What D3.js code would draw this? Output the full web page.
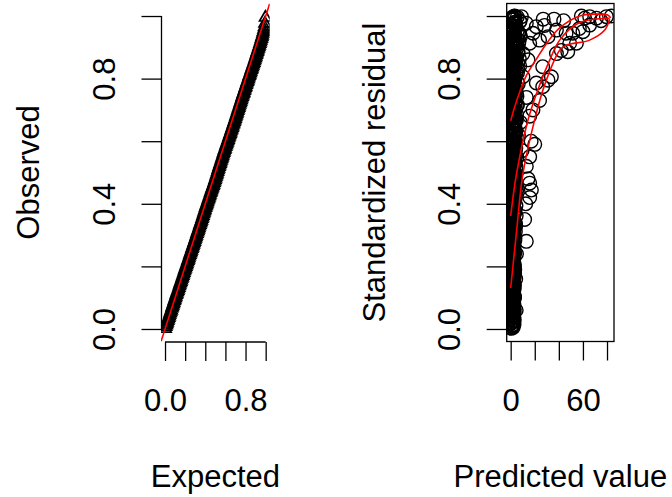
<!DOCTYPE html>
<html><head><meta charset="utf-8">
<script src="https://cdn.jsdelivr.net/npm/d3@7"></script>
<style>
html,body{margin:0;padding:0;background:#fff;}
svg{display:block;font-family:"Liberation Sans",Arial,Helvetica,sans-serif;}
</style></head>
<body><svg id="c" width="672" height="497"></svg>
<script>
// ---------- DATA ----------
// QQ plot (left): observed sorted residual quantiles
const qqObserved = [
0.001,0.007,0.012,0.016,0.021,0.026,0.031,0.036,0.041,0.046,
0.051,0.056,0.060,0.066,0.070,0.075,0.080,0.085,0.090,0.094,
0.099,0.104,0.109,0.113,0.118,0.122,0.127,0.132,0.137,0.142,
0.147,0.151,0.156,0.161,0.165,0.170,0.175,0.180,0.185,0.190,
0.194,0.199,0.204,0.208,0.213,0.218,0.222,0.227,0.232,0.237,
0.242,0.246,0.251,0.256,0.260,0.265,0.270,0.275,0.279,0.284,
0.289,0.294,0.299,0.304,0.309,0.313,0.318,0.323,0.328,0.333,
0.338,0.342,0.347,0.352,0.357,0.362,0.367,0.372,0.377,0.382,
0.387,0.392,0.396,0.401,0.406,0.411,0.415,0.420,0.425,0.430,
0.435,0.439,0.444,0.449,0.453,0.458,0.462,0.467,0.472,0.477,
0.482,0.487,0.492,0.497,0.502,0.508,0.513,0.518,0.523,0.528,
0.533,0.538,0.543,0.548,0.553,0.558,0.563,0.568,0.573,0.577,
0.582,0.587,0.591,0.596,0.601,0.605,0.610,0.615,0.620,0.624,
0.629,0.634,0.638,0.643,0.648,0.653,0.657,0.662,0.667,0.672,
0.677,0.682,0.687,0.692,0.697,0.702,0.707,0.712,0.717,0.722,
0.727,0.732,0.737,0.742,0.747,0.752,0.756,0.761,0.766,0.771,
0.775,0.780,0.785,0.790,0.794,0.799,0.804,0.809,0.813,0.818,
0.823,0.828,0.832,0.837,0.842,0.847,0.851,0.856,0.861,0.866,
0.871,0.876,0.881,0.886,0.891,0.896,0.901,0.906,0.911,0.916,
0.922,0.927,0.933,0.938,0.944,0.950,0.957,0.965,0.976,0.995];

// Residual vs predicted (right): dense column near zero prediction
const colResidual = [
0.002,0.005,0.011,0.014,0.020,0.022,0.029,0.031,0.036,0.043,
0.047,0.050,0.056,0.061,0.063,0.069,0.074,0.078,0.081,0.088,
0.092,0.095,0.101,0.106,0.108,0.115,0.119,0.122,0.128,0.133,
0.137,0.140,0.146,0.151,0.155,0.158,0.164,0.170,0.172,0.178,
0.183,0.186,0.191,0.197,0.200,0.205,0.211,0.214,0.219,0.224,
0.228,0.233,0.237,0.243,0.246,0.251,0.257,0.260,0.265,0.271,
0.274,0.279,0.283,0.289,0.292,0.297,0.303,0.306,0.311,0.316,
0.320,0.325,0.329,0.334,0.339,0.343,0.348,0.352,0.357,0.362,
0.366,0.371,0.375,0.380,0.386,0.389,0.394,0.399,0.403,0.408,
0.412,0.417,0.422,0.426,0.431,0.435,0.440,0.446,0.449,0.454,
0.459,0.463,0.468,0.472,0.477,0.482,0.486,0.491,0.495,0.500,
0.505,0.509,0.514,0.518,0.523,0.528,0.532,0.537,0.541,0.546,
0.551,0.555,0.560,0.564,0.569,0.574,0.578,0.583,0.587,0.592,
0.597,0.601,0.606,0.610,0.615,0.620,0.624,0.629,0.633,0.638,
0.643,0.647,0.652,0.656,0.661,0.666,0.670,0.675,0.679,0.684,
0.689,0.693,0.698,0.702,0.707,0.712,0.716,0.721,0.725,0.730,
0.735,0.739,0.744,0.748,0.753,0.758,0.762,0.767,0.771,0.776,
0.781,0.785,0.790,0.794,0.799,0.804,0.808,0.813,0.817,0.822,
0.827,0.831,0.836,0.840,0.845,0.850,0.854,0.859,0.863,0.868,
0.873,0.877,0.882,0.886,0.891,0.896,0.900,0.905,0.909,0.914,
0.919,0.923,0.928,0.932,0.937,0.942,0.946,0.951,0.955,0.960,
0.965,0.969,0.974,0.978,0.983,0.988,0.992,0.997,0.999,0.995];
const colPredicted = [
0.4,2.1,1.0,2.8,0.1,1.6,3.0,0.7,2.4,1.2,
0.3,2.6,1.4,0.9,3.1,0.2,1.9,2.7,0.6,1.3,
2.2,0.5,3.2,1.1,0.3,2.5,1.7,0.8,2.9,0.1,
1.5,3.0,0.6,2.3,1.0,0.4,2.8,1.8,0.2,3.3,
1.2,0.7,2.6,1.9,0.3,3.1,0.9,2.2,1.4,0.5,
2.7,1.1,0.2,3.4,1.6,0.8,2.4,0.4,3.0,1.3,
0.6,2.0,3.5,0.9,1.7,0.1,2.8,1.2,3.9,0.5,
2.3,1.0,4.2,0.3,1.8,3.1,0.7,2.5,1.4,4.6,
0.2,2.9,1.1,3.6,0.8,2.0,4.4,0.4,1.6,3.2,
1.0,0.3,2.6,3.8,1.5,0.6,4.9,2.2,0.9,3.4,
0.5,1.8,3.0,0.2,4.1,1.3,2.4,0.8,3.7,1.6,
0.3,2.8,1.1,4.5,0.7,2.0,3.3,0.4,1.5,5.2,
2.5,0.9,3.9,1.2,0.2,2.7,4.3,1.7,0.6,3.1,
1.4,0.4,2.2,5.0,0.8,3.5,1.9,0.3,2.9,4.0,
0.7,1.6,3.4,0.2,2.4,4.7,1.1,0.5,3.0,1.9,
2.8,0.3,1.3,4.2,0.9,2.1,5.6,0.6,3.6,1.5,
0.4,3.2,1.8,0.8,4.8,2.5,0.2,3.9,1.2,2.9,
1.7,0.5,5.3,2.3,0.9,3.4,1.4,0.3,4.4,2.0,
0.6,2.7,1.0,3.8,0.2,5.9,1.6,2.4,0.8,4.5,
3.1,0.4,1.9,6.2,1.1,2.8,0.3,4.1,1.5,3.6,
0.7,2.2,5.1,0.4,3.3,1.2,6.8,2.6,0.9,4.3,
1.8,0.3,3.7,2.4,7.5,0.6,1.4,5.5,2.9,1.0];
// second batch of column points
const col2Residual = [
0.008,0.017,0.025,0.034,0.040,0.053,0.058,0.066,0.072,0.084,
0.090,0.098,0.104,0.112,0.125,0.130,0.139,0.143,0.153,0.161,
0.167,0.175,0.181,0.189,0.195,0.203,0.209,0.217,0.226,0.231,
0.239,0.248,0.254,0.262,0.268,0.277,0.285,0.291,0.299,0.308,
0.314,0.322,0.331,0.337,0.345,0.354,0.360,0.369,0.377,0.384,
0.392,0.401,0.406,0.415,0.424,0.429,0.438,0.444,0.452,0.461,
0.466,0.474,0.484,0.489,0.497,0.507,0.512,0.520,0.530,0.535,
0.543,0.553,0.558,0.566,0.576,0.581,0.589,0.599,0.604,0.612,
0.622,0.627,0.635,0.645,0.650,0.658,0.668,0.673,0.681,0.691,
0.696,0.704,0.714,0.719,0.727,0.737,0.742,0.750,0.760,0.765,
0.773,0.783,0.788,0.796,0.806,0.811,0.819,0.829,0.834,0.842,
0.852,0.857,0.865,0.875,0.880,0.888,0.898,0.903,0.911,0.921,
0.926,0.934,0.944,0.949,0.957,0.967,0.972,0.980,0.990,0.994];
const col2Predicted = [
1.1,0.2,2.3,0.7,1.8,2.9,0.4,1.3,2.5,0.1,
2.0,0.9,3.2,0.5,1.6,2.7,0.3,1.2,2.2,0.8,
2.9,0.4,1.5,3.4,0.6,2.0,1.0,0.2,2.6,1.7,
0.5,3.0,1.3,0.8,2.4,0.1,1.9,3.6,0.7,1.1,
2.8,0.3,1.6,4.0,0.9,2.2,0.4,3.3,1.4,0.6,
2.5,1.0,0.2,3.7,1.8,0.5,2.9,1.2,4.3,0.8,
2.0,0.3,3.1,1.5,0.7,4.6,2.3,1.1,0.4,3.5,
1.7,0.9,2.7,0.2,4.1,1.3,3.0,0.6,2.1,5.0,
0.3,1.9,3.8,1.0,0.5,2.6,4.4,1.4,0.8,3.2,
2.0,0.2,5.3,1.6,0.7,2.9,3.9,1.1,0.4,2.4,
4.7,1.3,0.6,3.4,2.1,0.3,5.7,1.8,0.9,2.8,
4.2,0.5,1.5,3.6,6.0,1.0,2.3,0.4,4.9,1.7,
3.1,0.8,6.4,2.0,1.2,4.5,0.3,3.5,1.6,2.5];
// third batch of column points
const col3Residual = [
0.004,0.013,0.019,0.027,0.038,0.045,0.054,0.062,0.070,0.079,
0.086,0.094,0.103,0.110,0.117,0.126,0.135,0.141,0.149,0.157,
0.166,0.173,0.180,0.188,0.198,0.207,0.215,0.221,0.229,0.238,
0.247,0.255,0.263,0.270,0.280,0.287,0.295,0.302,0.312,0.320,
0.327,0.335,0.343,0.352,0.359,0.367,0.376,0.383,0.391,0.399,
0.407,0.416,0.423,0.431,0.440,0.447,0.455,0.464,0.471,0.479,
0.488,0.495,0.503,0.512,0.519,0.527,0.536,0.543,0.551,0.560,
0.567,0.575,0.584,0.591,0.599,0.608,0.615,0.623,0.632,0.639,
0.647,0.656,0.663,0.671,0.680,0.687,0.695,0.704,0.711,0.719,
0.728,0.735,0.743,0.752,0.759,0.767,0.776,0.783,0.791,0.800,
0.807,0.815,0.824,0.831,0.839,0.848,0.855,0.863,0.872,0.879,
0.887,0.896,0.903,0.911,0.920,0.927,0.935,0.944,0.951,0.959,
0.968,0.975,0.983,0.991,0.996];
const col3Predicted = [
0.6,1.9,0.2,1.4,2.6,0.9,0.3,2.1,1.2,0.5,
1.7,2.8,0.1,1.0,2.3,0.7,1.5,3.0,0.4,1.8,
0.9,2.5,0.2,1.3,3.1,0.6,2.0,1.1,0.3,2.7,
1.6,0.8,2.4,0.1,1.4,3.2,0.5,2.2,1.0,0.3,
2.9,1.7,0.6,2.4,1.2,0.2,3.4,1.9,0.8,2.6,
0.4,1.5,3.0,0.9,2.1,0.3,1.8,3.6,0.7,2.5,
1.1,0.2,2.8,1.6,0.5,3.3,2.0,0.9,4.0,1.3,
0.4,2.6,1.8,0.7,3.7,1.2,0.2,2.9,4.4,1.5,
0.6,2.2,3.5,1.0,0.3,4.8,1.9,2.7,0.8,3.9,
1.4,0.5,5.2,2.3,1.1,3.4,0.3,6.3,1.7,2.8,
0.7,4.3,1.3,5.8,2.4,0.4,3.6,7.2,1.6,2.9,
0.9,4.9,2.1,6.6,1.2,3.3,8.2,0.6,5.4,2.6,
1.5,4.1,7.8,2.2,3.8];
// scattered points away from the column
const outPredicted = [4.6,4.2,4.8,13,11.6,12.5,15.8,17.2,15.8,14.4,13,20,17,15.8,
  31,26.6,24,18.5,15.8,13,21.3,33.8,26.6,38,42,47.4,49,54.6,51.6,46,38,31,24,18.5,
  15.8,21.3,13,8.9,3.3,28.2,10.2,14.4,7.5,10.2,61.5,65.6,58.7,71.2,79.5,83.6,65.6,60,
  36,44,6.5,8,9.5,5.5,7,27,57,75];
const outResidual = [0.06,0.16,0.24,0.28,0.35,0.40,0.466,0.444,0.42,0.48,0.52,0.59,0.60,0.55,
  0.795,0.774,0.73,0.70,0.68,0.74,0.786,0.806,0.838,0.88,0.89,0.886,0.913,0.913,0.945,0.945,0.955,0.934,0.923,0.945,
  0.913,0.966,0.977,0.998,1.0,0.97,0.88,0.86,0.84,0.806,0.993,0.998,1.0,0.993,0.998,1.0,0.971,0.95,
  0.99,0.985,0.62,0.66,0.57,0.45,0.92,0.99,0.96,0.985];
// quantile regression curves
const q1Predicted = [0,3.3,7.5,13.3,20.8,30.7,40.7,57.3,69.8,80.6,83.1];
const q1Residual  = [0.665,0.709,0.757,0.812,0.859,0.917,0.962,1.0,1.006,1.003,0.994];
const q2Predicted = [0,4.7,14.4,24.1,32.4,40.7,57.3,82.2];
const q2Residual  = [0.361,0.492,0.668,0.78,0.859,0.923,0.979,0.993];
const q3Predicted = [0,5,10,19.9,28.2,40.7,46.3,65.6,78.1,82.2];
const q3Residual  = [0.131,0.316,0.492,0.668,0.78,0.891,0.907,0.923,0.955,0.99];

const leftXTicks = [0,0.2,0.4,0.6,0.8,1.0];
const leftXLabels = ["0.0","","","","0.8",""];
const yTicks = [0,0.2,0.4,0.6,0.8,1.0];
const yLabels = ["0.0","","0.4","","0.8",""];
const rightXTicks = [0,20,40,60,80];
const rightXLabels = ["0","","","60",""];

// ---------- DRAW ----------
const svg = d3.select("#c");
const FS = 31;
const xL = d3.scaleLinear().domain([-0.04,1.04]).range([161,269.7]);
const yS = d3.scaleLinear().domain([-0.04,1.04]).range([341.5,3.5]);
const xR = d3.scaleLinear().domain([-3.3,85.8]).range([506.7,614]);

const defs = svg.append("defs");
defs.append("clipPath").attr("id","clipL").append("rect")
  .attr("x",161).attr("y",3.5).attr("width",108.7).attr("height",338);
defs.append("clipPath").attr("id","clipR").append("rect")
  .attr("x",506.7).attr("y",3.5).attr("width",107.3).attr("height",338);

function styleAxis(g){
  g.select(".domain").remove();
  g.selectAll("line").attr("stroke","#000").attr("stroke-width",1.3);
  g.selectAll("text").attr("fill","#000").style("font-size",FS+"px")
   .style("font-family","'Liberation Sans',Arial,sans-serif");
}
function bottomAxis(x, ticks, labels, yPos){
  const g = svg.append("g").attr("transform",`translate(0,${yPos})`)
    .call(d3.axisBottom(x).tickValues(ticks).tickSize(19)
      .tickFormat((d,i)=>labels[i]));
  styleAxis(g);
  g.selectAll("text").attr("y",69).attr("dy",null);
  return g;
}
function leftAxis(y, ticks, labels, xPos){
  const g = svg.append("g").attr("transform",`translate(${xPos},0)`)
    .call(d3.axisLeft(y).tickValues(ticks).tickSize(20)
      .tickFormat((d,i)=>labels[i]));
  styleAxis(g);
  g.selectAll("text").attr("x",null).attr("dy",null).attr("text-anchor","middle")
    .attr("transform","translate(-47,0) rotate(-90)");
  return g;
}

// Left panel
bottomAxis(xL, leftXTicks, leftXLabels, 342);
svg.append("line").attr("x1",xL(0)).attr("x2",xL(1)).attr("y1",342).attr("y2",342)
  .attr("stroke","#000").attr("stroke-width",1.3);
leftAxis(yS, yTicks, yLabels, 161.5);
svg.append("line").attr("x1",161.5).attr("x2",161.5).attr("y1",yS(0)).attr("y2",yS(1))
  .attr("stroke","#000").attr("stroke-width",1.3);

const n = qqObserved.length;
const gL = svg.append("g").attr("clip-path","url(#clipL)");
const tri = d3.symbol().type(d3.symbolTriangle).size(60);
gL.selectAll("path.pt").data(qqObserved).join("path")
  .attr("class","pt").attr("d",tri)
  .attr("transform",(d,i)=>`translate(${xL((i+0.5)/n)},${yS(d)})`)
  .attr("fill","none").attr("stroke","#000").attr("stroke-width",1.7);
gL.append("line").attr("x1",xL(-0.04)).attr("y1",yS(-0.04)).attr("x2",xL(1.04)).attr("y2",yS(1.04))
  .attr("stroke","#ff0000").attr("stroke-width",1.6);

// Right panel
const gR = svg.append("g").attr("clip-path","url(#clipR)");
const pts = colPredicted.map((p,i)=>[p,colResidual[i]])
  .concat(col2Predicted.map((p,i)=>[p,col2Residual[i]]))
  .concat(col3Predicted.map((p,i)=>[p,col3Residual[i]]))
  .concat(outPredicted.map((p,i)=>[p,outResidual[i]]));
gR.selectAll("circle").data(pts).join("circle")
  .attr("cx",d=>xR(d[0])).attr("cy",d=>yS(d[1])).attr("r",6.8)
  .attr("fill","none").attr("stroke","#000").attr("stroke-width",1.4);
const line = d3.line().x(d=>xR(d[0])).y(d=>yS(d[1])).curve(d3.curveCatmullRom);
[[q1Predicted,q1Residual],[q2Predicted,q2Residual],[q3Predicted,q3Residual]].forEach(([px,py])=>{
  gR.append("path").datum(px.map((p,i)=>[p,py[i]])).attr("d",line)
    .attr("fill","none").attr("stroke","#ff0000").attr("stroke-width",1.6);
});
svg.append("rect").attr("x",506.7).attr("y",3.5).attr("width",107.3).attr("height",338)
  .attr("fill","none").attr("stroke","#000").attr("stroke-width",1.3);
bottomAxis(xR, rightXTicks, rightXLabels, 341.5);
leftAxis(yS, yTicks, yLabels, 506.7);

// Titles
function title(txt,x,y,rot){
  svg.append("text").attr("transform",`translate(${x},${y})`+(rot?" rotate(-90)":""))
    .attr("text-anchor","middle").style("font-size",FS+"px").attr("fill","#000").text(txt);
}
title("Expected", (161+269.7)/2, 487, false);
title("Predicted value", (506.7+614)/2, 487, false);
title("Observed", 39, 172.5, true);
title("Standardized residual", 385, 172.5, true);
</script></body></html>
